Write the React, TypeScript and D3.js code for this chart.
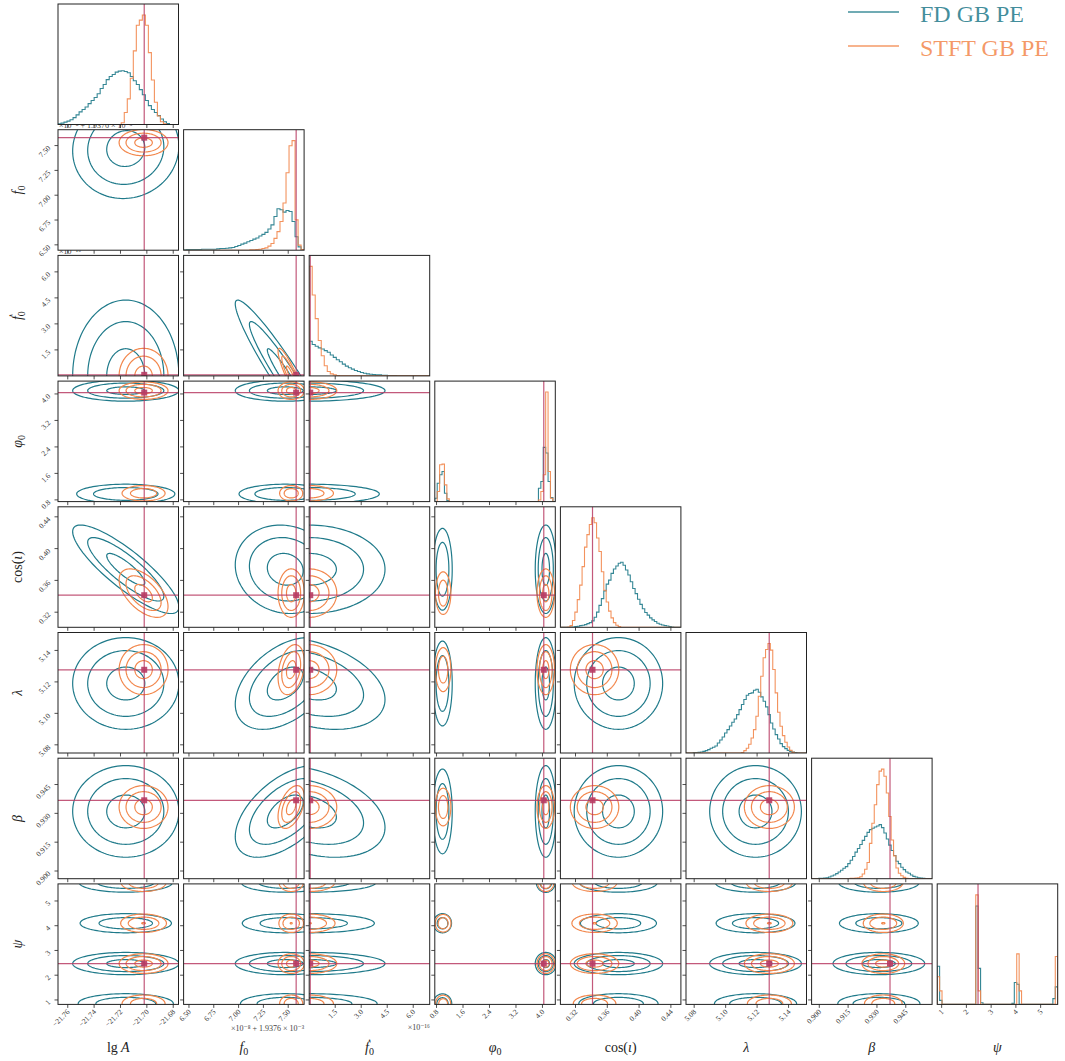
import React, { useEffect, useRef } from 'react';
import * as d3 from 'd3';

// parameter order: lgA, f0, f0dot, phi0, cos(iota), lambda, beta, psi
const RANGES: [number, number][] = [
  [-21.7674, -21.676],
  [6.446, 7.66],
  [0, 6.95],
  [0.748, 4.388],
  [0.301, 0.4526],
  [5.0748, 5.1514],
  [0.896, 0.9587],
  [0.82, 5.69],
];

const TICKS = [
  [-21.76, -21.74, -21.72, -21.7, -21.68],
  [6.5, 6.75, 7.0, 7.25, 7.5],
  [1.5, 3.0, 4.5, 6.0],
  [0.8, 1.6, 2.4, 3.2, 4.0],
  [0.32, 0.36, 0.4, 0.44],
  [5.08, 5.1, 5.12, 5.14],
  [0.9, 0.915, 0.93, 0.945],
  [1, 2, 3, 4, 5],
];

const TICK_LABELS = [
  ['−21.76', '−21.74', '−21.72', '−21.70', '−21.68'],
  ['6.50', '6.75', '7.00', '7.25', '7.50'],
  ['1.5', '3.0', '4.5', '6.0'],
  ['0.8', '1.6', '2.4', '3.2', '4.0'],
  ['0.32', '0.36', '0.40', '0.44'],
  ['5.08', '5.10', '5.12', '5.14'],
  ['0.900', '0.915', '0.930', '0.945'],
  ['1', '2', '3', '4', '5'],
];

// [text, italic, subscript]
const LABELS: [string, boolean, boolean][][] = [
  [['lg', false, false], [' A', true, false]],
  [['f', true, false], ['0', false, true]],
  [['ḟ', true, false], ['0', false, true]],
  [['φ', true, false], ['0', false, true]],
  [['cos(', false, false], ['ι', true, false], [')', false, false]],
  [['λ', true, false]],
  [['β', true, false]],
  [['ψ', true, false]],
];

const TRUTHS = [-21.702, 7.58, 0.06, 4.04, 0.3414, 5.1277, 0.9368, 2.47];

// 1D histograms (bin heights across each panel range)
const FD_HIST = [
  [2, 4, 7, 10, 14, 20, 28, 37, 44, 51, 61, 70, 79, 90, 105, 117, 131, 140, 146, 153, 156, 157, 155, 151, 140, 128, 117, 102, 87, 70, 55, 44, 35, 26, 16, 8, 3, 0, 0, 0],
  [1, 2, 2, 2, 2, 2, 3, 3, 3, 3, 3, 4, 5, 5, 6, 7, 8, 11, 14, 18, 21, 25, 29, 33, 36, 42, 47, 53, 63, 75, 100, 123, 120, 113, 118, 115, 85, 40, 10, 2],
  [103, 93, 88, 83, 80, 75, 70, 62, 55, 48, 42, 35, 29, 24, 20, 16, 13, 10, 8, 6, 5, 4, 3, 3, 2, 2, 1, 1, 1, 0, 0, 0, 0, 0, 0, 0, 0, 0, 0, 0],
  [10, 55, 80, 90, 25, 3, 0, 0, 0, 0, 0, 0, 0, 0, 0, 0, 0, 0, 0, 0, 0, 0, 0, 0, 0, 0, 0, 0, 0, 0, 0, 0, 0, 0, 0, 0, 0, 0, 0, 0, 0, 0, 0, 40, 60, 162, 145, 60, 12, 0],
  [0, 0, 0, 0, 1, 1, 2, 3, 5, 6, 8, 11, 14, 19, 30, 45, 65, 85, 108, 128, 140, 160, 173, 182, 190, 193, 184, 170, 155, 135, 115, 100, 83, 68, 55, 44, 36, 28, 22, 17, 12, 9, 7, 5, 4, 2, 1, 0, 0, 0],
  [0, 0, 0, 1, 1, 2, 3, 5, 7, 10, 14, 17, 21, 30, 39, 48, 60, 70, 81, 92, 102, 115, 130, 145, 160, 173, 178, 180, 188, 191, 182, 168, 155, 138, 115, 90, 72, 55, 42, 28, 19, 13, 8, 5, 3, 1, 0, 0, 0, 0],
  [0, 0, 0, 1, 1, 2, 3, 5, 8, 11, 15, 20, 25, 31, 36, 45, 55, 66, 79, 90, 102, 114, 126, 138, 146, 150, 154, 157, 161, 152, 136, 118, 100, 84, 69, 52, 45, 34, 27, 20, 16, 11, 7, 5, 3, 2, 1, 0, 0, 0],
  [113, 12, 0, 0, 0, 0, 0, 0, 0, 0, 0, 0, 0, 0, 0, 0, 292, 107, 5, 0, 0, 0, 0, 0, 0, 0, 0, 0, 0, 0, 0, 3, 65, 60, 0, 0, 0, 0, 0, 0, 0, 0, 0, 0, 0, 0, 0, 0, 17, 52],
];

const STFT_HIST = [
  [0, 0, 0, 0, 0, 0, 0, 0, 0, 0, 0, 0, 0, 0, 0, 0, 0, 0, 0, 0, 0, 5, 35, 75, 135, 215, 290, 305, 320, 290, 210, 130, 65, 25, 8, 2, 0, 0, 0, 0],
  [0, 0, 0, 0, 0, 0, 0, 0, 0, 0, 0, 0, 0, 0, 0, 0, 0, 0, 0, 0, 0, 0, 1, 1, 2, 3, 5, 7, 12, 20, 35, 55, 85, 140, 230, 310, 325, 90, 15, 2],
  [325, 240, 170, 105, 60, 30, 13, 6, 3, 1, 0, 0, 0, 0, 0, 0, 0, 0, 0, 0, 0, 0, 0, 0, 0, 0, 0, 0, 0, 0, 0, 0, 0, 0, 0, 0, 0, 0, 0, 0],
  [0, 30, 110, 112, 50, 8, 0, 0, 0, 0, 0, 0, 0, 0, 0, 0, 0, 0, 0, 0, 0, 0, 0, 0, 0, 0, 0, 0, 0, 0, 0, 0, 0, 0, 0, 0, 0, 0, 0, 0, 0, 0, 0, 5, 30, 80, 327, 90, 10, 0],
  [0, 0, 0, 1, 5, 20, 45, 82, 125, 180, 238, 275, 305, 325, 310, 265, 225, 165, 110, 75, 48, 28, 14, 6, 2, 0, 0, 0, 0, 0, 0, 0, 0, 0, 0, 0, 0, 0, 0, 0, 0, 0, 0, 0, 0, 0, 0, 0, 0, 0],
  [0, 0, 0, 0, 0, 0, 0, 0, 0, 0, 0, 0, 0, 0, 0, 0, 0, 0, 0, 0, 0, 0, 0, 1, 7, 14, 26, 45, 70, 110, 170, 230, 285, 310, 328, 308, 250, 180, 122, 80, 52, 32, 18, 8, 2, 0, 0, 0, 0, 0],
  [0, 0, 0, 0, 0, 0, 0, 0, 0, 0, 0, 0, 0, 0, 0, 0, 1, 1, 2, 3, 6, 14, 28, 48, 105, 165, 220, 280, 320, 326, 305, 255, 185, 115, 68, 32, 16, 9, 4, 1, 0, 0, 0, 0, 0, 0, 0, 0, 0, 0],
  [82, 40, 0, 0, 0, 0, 0, 0, 0, 0, 0, 0, 0, 0, 0, 0, 325, 40, 0, 0, 0, 0, 0, 0, 0, 0, 0, 0, 0, 0, 0, 0, 0, 150, 40, 0, 0, 0, 0, 0, 0, 0, 0, 0, 0, 0, 0, 0, 0, 142],
];

// posterior modes per parameter: [centre, sigma, relative peak]
const FD_MODES = [
  [[-21.716, 0.0152, 1]],
  [[7.47, 0.19, 1]],
  [[0, 1.65, 1]],
  [[0.98, 0.12, 0.6], [4.1, 0.12, 1]],
  [[0.374, 0.021, 1]],
  [[5.119, 0.011, 1]],
  [[0.931, 0.009, 1]],
  [[0.85, 0.17, 0.5], [2.47, 0.17, 1], [4.1, 0.17, 0.4], [5.75, 0.17, 0.45]],
];
const STFT_MODES = [
  [[-21.7025, 0.007, 1]],
  [[7.53, 0.05, 1]],
  [[0, 0.6, 1]],
  [[1.0, 0.1, 0.45], [4.1, 0.1, 1]],
  [[0.344, 0.0115, 1]],
  [[5.1278, 0.006, 1]],
  [[0.9333, 0.0042, 1]],
  [[0.85, 0.15, 0.45], [2.47, 0.15, 1], [4.1, 0.15, 0.65], [5.75, 0.15, 0.6]],
];

// pairwise correlations [i, j, rho]
const FD_CORR = [[0, 1, 0.05], [0, 4, -0.85], [1, 2, -0.95], [1, 4, -0.1], [1, 5, 0.45], [1, 6, 0.55], [2, 5, -0.35], [2, 6, -0.35]];
const STFT_CORR = [[0, 4, -0.55], [1, 2, -0.9], [1, 5, 0.3], [1, 6, 0.45]];

// joint (phi0, psi) modes: [phi0, psi, relative peak]
const FD_PHI_PSI = [[0.98, 0.85, 0.45], [0.98, 4.1, 0.4], [4.1, 2.47, 1], [4.1, 5.75, 0.5]];
const STFT_PHI_PSI = [[1.0, 0.85, 0.4], [1.0, 4.1, 0.5], [4.1, 2.47, 1], [4.1, 5.75, 0.6]];

const LEVELS = [0.95, 1.9, 2.65];

const FD_COLOR = '#1f7a8a';
const STFT_COLOR = '#f2874c';
const TRUTH_COLOR = '#b83c64';
const FONT = "'Liberation Serif', 'DejaVu Serif', serif";

const N = 8;
const LEFT = 58;
const TOP = 4;
const STEP_X = 125.6;
const STEP_Y = 125.7;
const SIZE = 120.5;

const SERIES = [
  { name: 'FD GB PE', color: FD_COLOR, hist: FD_HIST, modes: FD_MODES, corr: FD_CORR, phiPsi: FD_PHI_PSI },
  { name: 'STFT GB PE', color: STFT_COLOR, hist: STFT_HIST, modes: STFT_MODES, corr: STFT_CORR, phiPsi: STFT_PHI_PSI },
];

type Comp = { mx: number; my: number; sx: number; sy: number; rho: number; w: number };

function components(s: typeof SERIES[0], a: number, b: number): Comp[] {
  const found = s.corr.find(c => (c[0] === a && c[1] === b) || (c[0] === b && c[1] === a));
  const rho = found ? found[2] : 0;
  if ((a === 3 && b === 7) || (a === 7 && b === 3)) {
    const sp = s.modes[3][0][1];
    const sq = s.modes[7][0][1];
    return s.phiPsi.map(m => a === 3
      ? { mx: m[0], my: m[1], sx: sp, sy: sq, rho, w: m[2] }
      : { mx: m[1], my: m[0], sx: sq, sy: sp, rho, w: m[2] });
  }
  const out: Comp[] = [];
  s.modes[a].forEach(ma => s.modes[b].forEach(mb => {
    out.push({ mx: ma[0], my: mb[0], sx: ma[1], sy: mb[1], rho, w: ma[2] * mb[2] });
  }));
  return out;
}

const App: React.FC = () => {
  const svgRef = useRef<SVGSVGElement>(null);

  useEffect(() => {
    if (!svgRef.current) return;
    const svg = d3.select(svgRef.current);
    svg.selectAll('*').remove();
    const defs = svg.append('defs');
    const line = d3.line<[number, number]>();
    const closed = d3.line<[number, number]>().curve(d3.curveLinearClosed);

    // offset texts (drawn first, panels sit on top)
    const off = svg.append('g').style('font-size', '8px').attr('fill', '#444');
    off.append('text').attr('x', LEFT + 1).attr('y', TOP + STEP_Y - 1.5).text('×10⁻⁸ + 1.9376 × 10⁻³');
    off.append('text').attr('x', LEFT + 1).attr('y', TOP + 2 * STEP_Y - 1.5).text('×10⁻¹⁶');
    off.append('text').attr('x', LEFT + STEP_X + SIZE).attr('y', 1031).attr('text-anchor', 'end').text('×10⁻⁸ + 1.9376 × 10⁻³');
    off.append('text').attr('x', LEFT + 2 * STEP_X + SIZE).attr('y', 1030).attr('text-anchor', 'end').text('×10⁻¹⁶');

    for (let i = 0; i < N; i++) {
      for (let j = 0; j <= i; j++) {
        const x0 = LEFT + j * STEP_X;
        const y0 = TOP + i * STEP_Y;
        const x = d3.scaleLinear().domain(RANGES[j]).range([x0, x0 + SIZE]);
        const g = svg.append('g');
        const clipId = `clip-${i}-${j}`;
        defs.append('clipPath').attr('id', clipId).append('rect')
          .attr('x', x0).attr('y', y0).attr('width', SIZE).attr('height', SIZE);
        g.append('rect').attr('x', x0).attr('y', y0).attr('width', SIZE).attr('height', SIZE).attr('fill', '#fff');
        const body = g.append('g').attr('clip-path', `url(#${clipId})`);

        if (i === j) {
          const ymax = 1.1 * d3.max(SERIES.map(s => d3.max(s.hist[i]) as number)) as number;
          const y = d3.scaleLinear().domain([0, ymax]).range([y0 + SIZE, y0]);
          SERIES.forEach(s => {
            const counts = s.hist[i];
            const [lo, hi] = RANGES[i];
            const w = (hi - lo) / counts.length;
            const pts: [number, number][] = [[x(lo), y(0)]];
            counts.forEach((c, k) => {
              pts.push([x(lo + k * w), y(c)]);
              pts.push([x(lo + (k + 1) * w), y(c)]);
            });
            pts.push([x(hi), y(0)]);
            body.append('path').attr('d', line(pts)).attr('fill', 'none')
              .attr('stroke', s.color).attr('stroke-width', 1.1).attr('stroke-opacity', 0.9);
          });
          body.append('line').attr('x1', x(TRUTHS[i])).attr('x2', x(TRUTHS[i]))
            .attr('y1', y0).attr('y2', y0 + SIZE)
            .attr('stroke', TRUTH_COLOR).attr('stroke-width', 1.2).attr('stroke-opacity', 0.85);
        } else {
          const y = d3.scaleLinear().domain(RANGES[i]).range([y0 + SIZE, y0]);
          SERIES.forEach(s => {
            const comps = components(s, j, i);
            const wmax = d3.max(comps, c => c.w) as number;
            comps.forEach(c => {
              LEVELS.forEach(k => {
                const r2 = k * k + 2 * Math.log(c.w / wmax);
                if (r2 < 0.04) return;
                const r = Math.sqrt(r2);
                const q = Math.sqrt(1 - c.rho * c.rho);
                const pts: [number, number][] = d3.range(120).map(t => {
                  const a = (t / 120) * 2 * Math.PI;
                  const u = r * Math.cos(a);
                  const v = r * Math.sin(a);
                  return [x(c.mx + c.sx * u), y(c.my + c.sy * (c.rho * u + q * v))];
                });
                body.append('path').attr('d', closed(pts)).attr('fill', 'none')
                  .attr('stroke', s.color).attr('stroke-width', 1.2);
              });
            });
          });
          const tx = x(TRUTHS[j]);
          const ty = y(TRUTHS[i]);
          body.append('line').attr('x1', tx).attr('x2', tx).attr('y1', y0).attr('y2', y0 + SIZE)
            .attr('stroke', TRUTH_COLOR).attr('stroke-width', 1.2).attr('stroke-opacity', 0.85);
          body.append('line').attr('x1', x0).attr('x2', x0 + SIZE).attr('y1', ty).attr('y2', ty)
            .attr('stroke', TRUTH_COLOR).attr('stroke-width', 1.2).attr('stroke-opacity', 0.85);
          body.append('rect').attr('x', tx - 3).attr('y', ty - 3).attr('width', 6).attr('height', 6)
            .attr('fill', TRUTH_COLOR).attr('fill-opacity', 0.9);

          // left ticks
          TICKS[i].forEach((t, k) => {
            const yy = y(t);
            g.append('line').attr('x1', x0 - 3.5).attr('x2', x0).attr('y1', yy).attr('y2', yy)
              .attr('stroke', '#222').attr('stroke-width', 0.8);
            if (j === 0) {
              g.append('text').attr('x', x0 - 7).attr('y', yy + 3)
                .attr('text-anchor', 'end').attr('transform', `rotate(-45, ${x0 - 7}, ${yy + 3})`)
                .style('font-size', '7.5px').attr('fill', '#333').text(TICK_LABELS[i][k]);
            }
          });
        }

        // bottom ticks
        TICKS[j].forEach((t, k) => {
          const xx = x(t);
          g.append('line').attr('x1', xx).attr('x2', xx).attr('y1', y0 + SIZE).attr('y2', y0 + SIZE + 3.5)
            .attr('stroke', '#222').attr('stroke-width', 0.8);
          if (i === N - 1) {
            const ax = xx + 2.5;
            const ay = y0 + SIZE + 8;
            g.append('text').attr('x', ax).attr('y', ay)
              .attr('text-anchor', 'end').attr('transform', `rotate(-45, ${ax}, ${ay})`)
              .style('font-size', '7.5px').attr('fill', '#333').text(TICK_LABELS[j][k]);
          }
        });

        g.append('rect').attr('x', x0).attr('y', y0).attr('width', SIZE).attr('height', SIZE)
          .attr('fill', 'none').attr('stroke', '#222').attr('stroke-width', 1);
      }
    }

    // axis labels
    const addLabel = (parts: [string, boolean, boolean][], px: number, py: number, rot: boolean) => {
      const t = svg.append('text').attr('x', px).attr('y', py).attr('text-anchor', 'middle')
        .style('font-size', '14px').attr('fill', '#222');
      if (rot) t.attr('transform', `rotate(-90, ${px}, ${py})`);
      parts.forEach(([txt, it, sub]) => {
        const sp = t.append('tspan').text(txt);
        if (it) sp.style('font-style', 'italic');
        if (sub) sp.attr('baseline-shift', '-25%').style('font-size', '10px');
      });
    };
    for (let k = 0; k < N; k++) {
      addLabel(LABELS[k], LEFT + k * STEP_X + SIZE / 2, 1052, false);
      if (k > 0) addLabel(LABELS[k], 22, TOP + k * STEP_Y + SIZE / 2, true);
    }

    // legend
    SERIES.forEach((s, k) => {
      const ly = 12 + k * 34;
      svg.append('line').attr('x1', 848).attr('x2', 899).attr('y1', ly).attr('y2', ly)
        .attr('stroke', s.color).attr('stroke-width', 1.5).attr('stroke-opacity', 0.85);
      svg.append('text').attr('x', 920).attr('y', ly + 10).style('font-size', '24px')
        .attr('fill', s.color).attr('fill-opacity', 0.85).text(s.name);
    });
  }, []);

  return (
    <svg
      ref={svgRef}
      width={1065}
      height={1061}
      style={{ position: 'absolute', left: 0, top: 0, fontFamily: FONT, background: '#fff' }}
    />
  );
};

export default App;
